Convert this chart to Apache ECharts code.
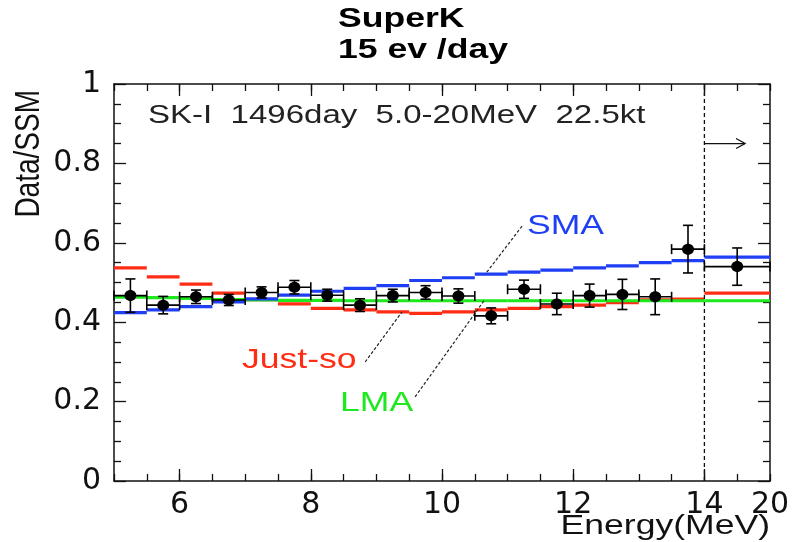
<!DOCTYPE html>
<html>
<head>
<meta charset="utf-8">
<script src="https://cdn.jsdelivr.net/npm/echarts@6/dist/echarts.min.js"></script>
<style>
  html, body { margin: 0; padding: 0; background: #fff; }
  #chart { width: 795px; height: 542px; }
</style>
</head>
<body>
<div id="chart"></div>
<script>
// Energy bin edges as drawn on the axis; the last bin (14-20 MeV) is compressed into 14-15.
const binEdges = [5, 5.5, 6, 6.5, 7, 7.5, 8, 8.5, 9, 9.5, 10, 10.5, 11, 11.5, 12, 12.5, 13, 13.5, 14, 15];
const xMajorTicks = [6, 8, 10, 12, 14];
const xLabelValues = [6, 8, 10, 12, 14, 15];
const xLabelTexts = ['6', '8', '10', '12', '14', '20'];

// Measured Data/SSM ratio per bin and its statistical error
const dataRatio = [0.467, 0.443, 0.464, 0.456, 0.475, 0.488, 0.468, 0.443, 0.467, 0.475,
                   0.466, 0.416, 0.483, 0.446, 0.467, 0.470, 0.464, 0.584, 0.540];
const dataError = [0.042, 0.022, 0.017, 0.014, 0.014, 0.017, 0.015, 0.016, 0.016, 0.017,
                   0.018, 0.020, 0.023, 0.027, 0.029, 0.038, 0.045, 0.060, 0.047];

// Expected spectra for the oscillation solutions
const smaRatio    = [0.424, 0.431, 0.439, 0.451, 0.459, 0.468, 0.478, 0.485, 0.492, 0.505,
                     0.512, 0.521, 0.526, 0.531, 0.537, 0.542, 0.550, 0.555, 0.564];
const justSoRatio = [0.537, 0.514, 0.496, 0.473, 0.457, 0.446, 0.435, 0.431, 0.426, 0.422,
                     0.426, 0.431, 0.435, 0.439, 0.443, 0.449, 0.456, 0.458, 0.473];
const lmaRatio    = [0.463, 0.462, 0.460, 0.457, 0.456, 0.455, 0.455, 0.454, 0.454, 0.454,
                     0.454, 0.454, 0.454, 0.454, 0.454, 0.454, 0.454, 0.454, 0.454];

// Leader lines from the labels to their curves: [x1, y1, x2, y2]
const leaderLines = [
  [11.22, 0.642, 10.66, 0.521],   // SMA
  [8.83, 0.300, 9.39, 0.426],     // Just-so
  [9.59, 0.212, 10.64, 0.454]     // LMA
];
// Threshold marker and arrow: [x1, y1, x2, y2]
const thresholdLine = [[14, 0, 14, 1]];
const arrowLine = [[14, 0.85, 14.62, 0.85]];

const COLORS = { sma: '#1f3ff5', justSo: '#ff2d14', lma: '#1ee81e', ink: '#111' };
const FONT = 'Liberation Sans, Arial, Helvetica, sans-serif';
const SX = 1.27;   // horizontal stretch of the lettering

const chart = echarts.init(document.getElementById('chart'), null, { renderer: 'canvas' });

function stepSeries(name, values, color, z) {
  return {
    type: 'custom', name, xAxisIndex: 0, yAxisIndex: 0, silent: true, z,
    data: values.map((v, i) => [binEdges[i], binEdges[i + 1], v]),
    encode: { x: [0, 1], y: 2 },
    renderItem(params, api) {
      const a = api.coord([api.value(0), api.value(2)]);
      const b = api.coord([api.value(1), api.value(2)]);
      return { type: 'line', shape: { x1: a[0], y1: a[1], x2: b[0], y2: b[1] },
               style: { stroke: color, lineWidth: 3.2 } };
    }
  };
}

function segmentSeries(name, data, style, z, arrowHead) {
  return {
    type: 'custom', name, xAxisIndex: 0, yAxisIndex: 0, silent: true, z,
    data, encode: { x: [0, 2], y: [1, 3] },
    renderItem(params, api) {
      const a = api.coord([api.value(0), api.value(1)]);
      const b = api.coord([api.value(2), api.value(3)]);
      const children = [{ type: 'line', shape: { x1: a[0], y1: a[1], x2: b[0], y2: b[1] }, style }];
      if (arrowHead) {
        children.push({ type: 'polyline', shape: { points: [[b[0] - 9, b[1] - 5], [b[0], b[1]], [b[0] - 9, b[1] + 5]] },
                        style: { stroke: style.stroke, lineWidth: style.lineWidth, fill: null } });
      }
      return { type: 'group', children };
    }
  };
}

const pointData = dataRatio.map((v, i) => [
  (binEdges[i] + binEdges[i + 1]) / 2, v, binEdges[i], binEdges[i + 1], v - dataError[i], v + dataError[i]
]);

const option = {
  animation: false,
  backgroundColor: '#fff',
  grid: { left: 114, right: 25, top: 84, bottom: 61, containLabel: false },
  xAxis: [
    { type: 'value', position: 'bottom', min: 5, max: 15, interval: 0.5,
      axisLine: { show: true, onZero: false, lineStyle: { color: COLORS.ink, width: 1.5 } },
      axisTick: { show: true, inside: true, length: 7, lineStyle: { color: COLORS.ink, width: 1.3 } },
      axisLabel: { show: false }, splitLine: { show: false } },
    { type: 'value', position: 'bottom', min: 5, max: 15,
      axisLine: { show: false, onZero: false },
      axisTick: { show: true, inside: true, length: 12, customValues: xMajorTicks,
                  lineStyle: { color: COLORS.ink, width: 1.3 } },
      axisLabel: { show: true, customValues: xLabelValues, margin: 9, fontSize: 30,
                   fontFamily: 'DejaVu Sans', color: COLORS.ink,
                   formatter: v => xLabelTexts[xLabelValues.indexOf(v)] ?? '' },
      splitLine: { show: false } },
    { type: 'value', position: 'top', min: 5, max: 15, interval: 0.5,
      axisLine: { show: true, onZero: false, lineStyle: { color: COLORS.ink, width: 1.5 } },
      axisTick: { show: true, inside: true, length: 7, lineStyle: { color: COLORS.ink, width: 1.3 } },
      axisLabel: { show: false }, splitLine: { show: false } },
    { type: 'value', position: 'top', min: 5, max: 15,
      axisLine: { show: false, onZero: false },
      axisTick: { show: true, inside: true, length: 12, customValues: xMajorTicks,
                  lineStyle: { color: COLORS.ink, width: 1.3 } },
      axisLabel: { show: false }, splitLine: { show: false } }
  ],
  yAxis: [
    { type: 'value', position: 'left', min: 0, max: 1, interval: 0.2,
      axisLine: { show: true, onZero: false, lineStyle: { color: COLORS.ink, width: 1.5 } },
      axisTick: { show: true, inside: true, length: 12, lineStyle: { color: COLORS.ink, width: 1.3 } },
      minorTick: { show: true, splitNumber: 4, length: 7, lineStyle: { color: COLORS.ink, width: 1.3 } },
      axisLabel: { show: true, margin: 13, fontSize: 30, fontFamily: 'DejaVu Sans', color: COLORS.ink,
                   formatter: v => (v === 0 || v === 1) ? String(v) : v.toFixed(1) },
      splitLine: { show: false }, minorSplitLine: { show: false } },
    { type: 'value', position: 'right', min: 0, max: 1, interval: 0.2,
      axisLine: { show: true, onZero: false, lineStyle: { color: COLORS.ink, width: 1.5 } },
      axisTick: { show: true, inside: true, length: 12, lineStyle: { color: COLORS.ink, width: 1.3 } },
      minorTick: { show: true, splitNumber: 4, length: 7, lineStyle: { color: COLORS.ink, width: 1.3 } },
      axisLabel: { show: false }, splitLine: { show: false }, minorSplitLine: { show: false } }
  ],
  series: [
    stepSeries('Just-so', justSoRatio, COLORS.justSo, 2),
    stepSeries('LMA', lmaRatio, COLORS.lma, 3),
    stepSeries('SMA', smaRatio, COLORS.sma, 4),
    segmentSeries('threshold', thresholdLine, { stroke: COLORS.ink, lineWidth: 1.3, lineDash: [4, 3] }, 5, false),
    segmentSeries('arrow', arrowLine, { stroke: COLORS.ink, lineWidth: 1.3 }, 5, true),
    segmentSeries('leaders', leaderLines, { stroke: '#222', lineWidth: 1.2, lineDash: [3, 2] }, 5, false),
    {
      type: 'custom', name: 'Data', xAxisIndex: 0, yAxisIndex: 0, silent: true, z: 10,
      data: pointData, encode: { x: [2, 3], y: [4, 5] },
      renderItem(params, api) {
        const c = api.coord([api.value(0), api.value(1)]);
        const l = api.coord([api.value(2), api.value(1)]);
        const r = api.coord([api.value(3), api.value(1)]);
        const lo = api.coord([api.value(0), api.value(4)]);
        const hi = api.coord([api.value(0), api.value(5)]);
        const cap = 5;
        const st = { stroke: '#000', lineWidth: 1.6 };
        const seg = (x1, y1, x2, y2) => ({ type: 'line', shape: { x1, y1, x2, y2 }, style: st });
        return { type: 'group', children: [
          seg(l[0], c[1], r[0], c[1]),
          seg(l[0], c[1] - cap, l[0], c[1] + cap),
          seg(r[0], c[1] - cap, r[0], c[1] + cap),
          seg(c[0], lo[1], c[0], hi[1]),
          seg(c[0] - cap, lo[1], c[0] + cap, lo[1]),
          seg(c[0] - cap, hi[1], c[0] + cap, hi[1]),
          { type: 'ellipse', shape: { cx: c[0], cy: c[1], rx: 6, ry: 5.5 }, style: { fill: '#000' } }
        ] };
      }
    }
  ],
  graphic: [
    { type: 'text', x: 338, y: 19, scaleX: SX,
      style: { text: 'SuperK', font: `bold 28px ${FONT}`, fill: '#000', verticalAlign: 'middle', align: 'left' } },
    { type: 'text', x: 338, y: 50, scaleX: SX,
      style: { text: '15 ev /day', font: `bold 28px ${FONT}`, fill: '#000', verticalAlign: 'middle', align: 'left' } },
    { type: 'text', x: 148, y: 116, scaleX: SX,
      style: { text: 'SK-I  1496day  5.0-20MeV  22.5kt', font: `26px ${FONT}`, fill: '#222', verticalAlign: 'middle', align: 'left' } },
    { type: 'text', x: 527, y: 226, scaleX: SX,
      style: { text: 'SMA', font: `28px ${FONT}`, fill: COLORS.sma, verticalAlign: 'middle', align: 'left' } },
    { type: 'text', x: 242, y: 360, scaleX: SX,
      style: { text: 'Just-so', font: `28px ${FONT}`, fill: COLORS.justSo, verticalAlign: 'middle', align: 'left' } },
    { type: 'text', x: 340, y: 403, scaleX: SX,
      style: { text: 'LMA', font: `28px ${FONT}`, fill: COLORS.lma, verticalAlign: 'middle', align: 'left' } },
    { type: 'text', x: 770, y: 526, scaleX: SX,
      style: { text: 'Energy(MeV)', font: `28px ${FONT}`, fill: '#111', verticalAlign: 'middle', align: 'right' } },
    { type: 'text', x: 29, y: 90, rotation: Math.PI / 2, scaleY: SX,
      style: { text: 'Data/SSM', font: `28px ${FONT}`, fill: '#111', verticalAlign: 'middle', align: 'right' } }
  ]
};

chart.setOption(option);
</script>
</body>
</html>
